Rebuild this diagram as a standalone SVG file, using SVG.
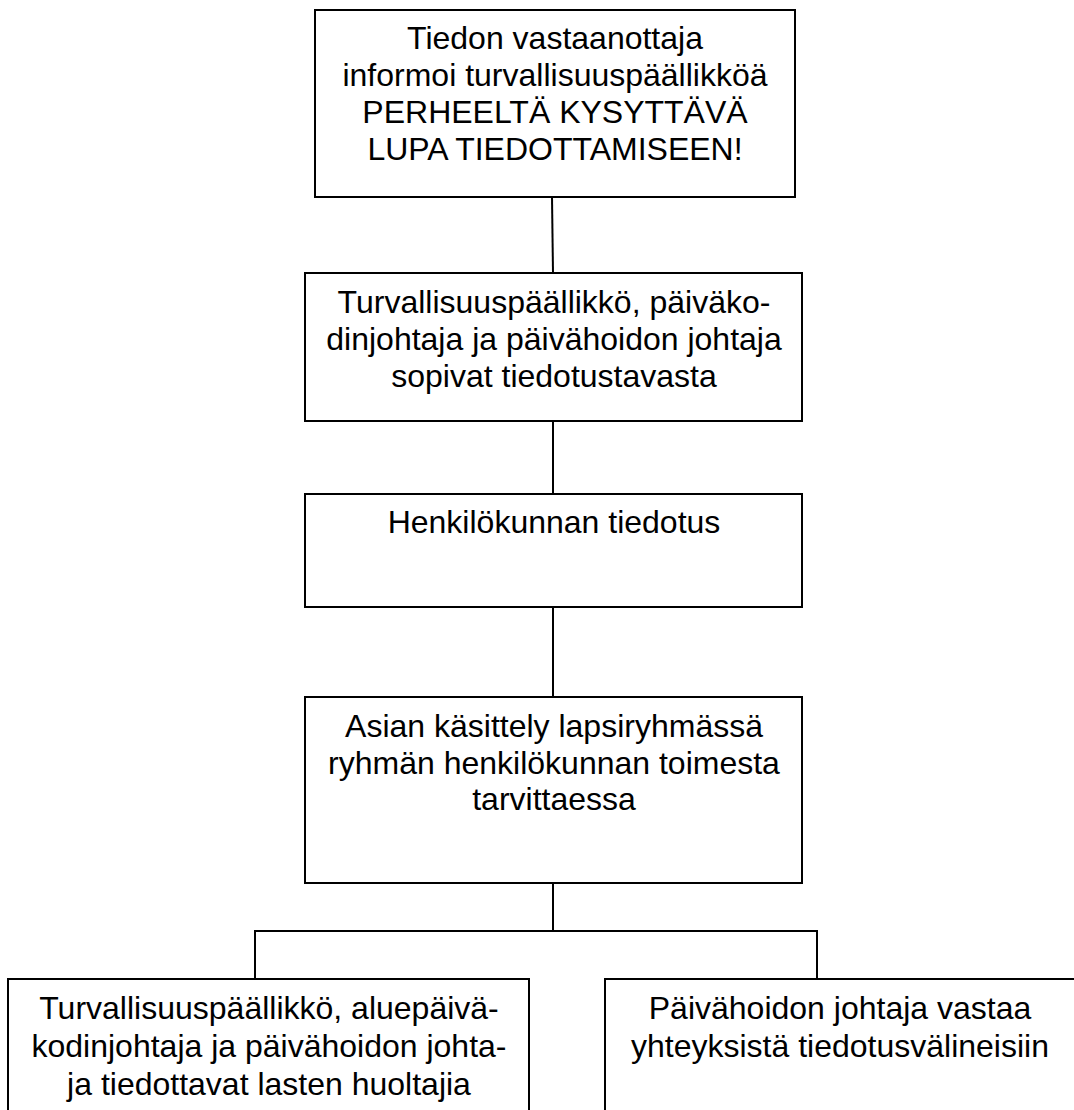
<svg xmlns="http://www.w3.org/2000/svg" width="1074" height="1110" viewBox="0 0 1074 1110">
<style>
.box{fill:#fff;stroke:#000;stroke-width:2}
.t{font-family:"Liberation Sans",Arial,sans-serif;font-size:32px;fill:#000;text-anchor:middle}
.c{stroke:#000;stroke-width:2;fill:none}
</style>
<rect width="1074" height="1110" fill="#fff"/>
<g id="connectors">
<line class="c" x1="552" y1="197" x2="553" y2="273"/>
<line class="c" x1="553" y1="421" x2="553" y2="494"/>
<line class="c" x1="553" y1="607" x2="553" y2="697"/>
<line class="c" x1="553" y1="883" x2="553" y2="931"/>
<polyline class="c" points="255,979 255,931 817,931 817,979"/>
</g>
<g id="n1">
<rect class="box" x="315" y="10" width="480" height="187"/>
<text class="t" x="555" y="49">Tiedon vastaanottaja</text>
<text class="t" x="555" y="86">informoi turvallisuuspäällikköä</text>
<text class="t" x="555" y="123">PERHEELTÄ KYSYTTÄVÄ</text>
<text class="t" x="555" y="160">LUPA TIEDOTTAMISEEN!</text>
</g>
<g id="n2">
<rect class="box" x="305" y="273" width="497" height="148"/>
<text class="t" x="554" y="313">Turvallisuuspäällikkö, päiväko-</text>
<text class="t" x="554" y="350">dinjohtaja ja päivähoidon johtaja</text>
<text class="t" x="554" y="387">sopivat tiedotustavasta</text>
</g>
<g id="n3">
<rect class="box" x="305" y="494" width="497" height="113"/>
<text class="t" x="554" y="533">Henkilökunnan tiedotus</text>
</g>
<g id="n4">
<rect class="box" x="305" y="697" width="497" height="186"/>
<text class="t" x="554" y="737">Asian käsittely lapsiryhmässä</text>
<text class="t" x="554" y="774">ryhmän henkilökunnan toimesta</text>
<text class="t" x="554" y="810">tarvittaessa</text>
</g>
<g id="n5">
<rect class="box" x="8" y="979" width="521" height="150"/>
<text class="t" x="269" y="1019">Turvallisuuspäällikkö, aluepäivä-</text>
<text class="t" x="269" y="1057">kodinjohtaja ja päivähoidon johta-</text>
<text class="t" x="269" y="1095">ja tiedottavat lasten huoltajia</text>
</g>
<g id="n6">
<rect class="box" x="605" y="979" width="472" height="150"/>
<text class="t" x="840" y="1019">Päivähoidon johtaja vastaa</text>
<text class="t" x="840" y="1057">yhteyksistä tiedotusvälineisiin</text>
</g>
</svg>
